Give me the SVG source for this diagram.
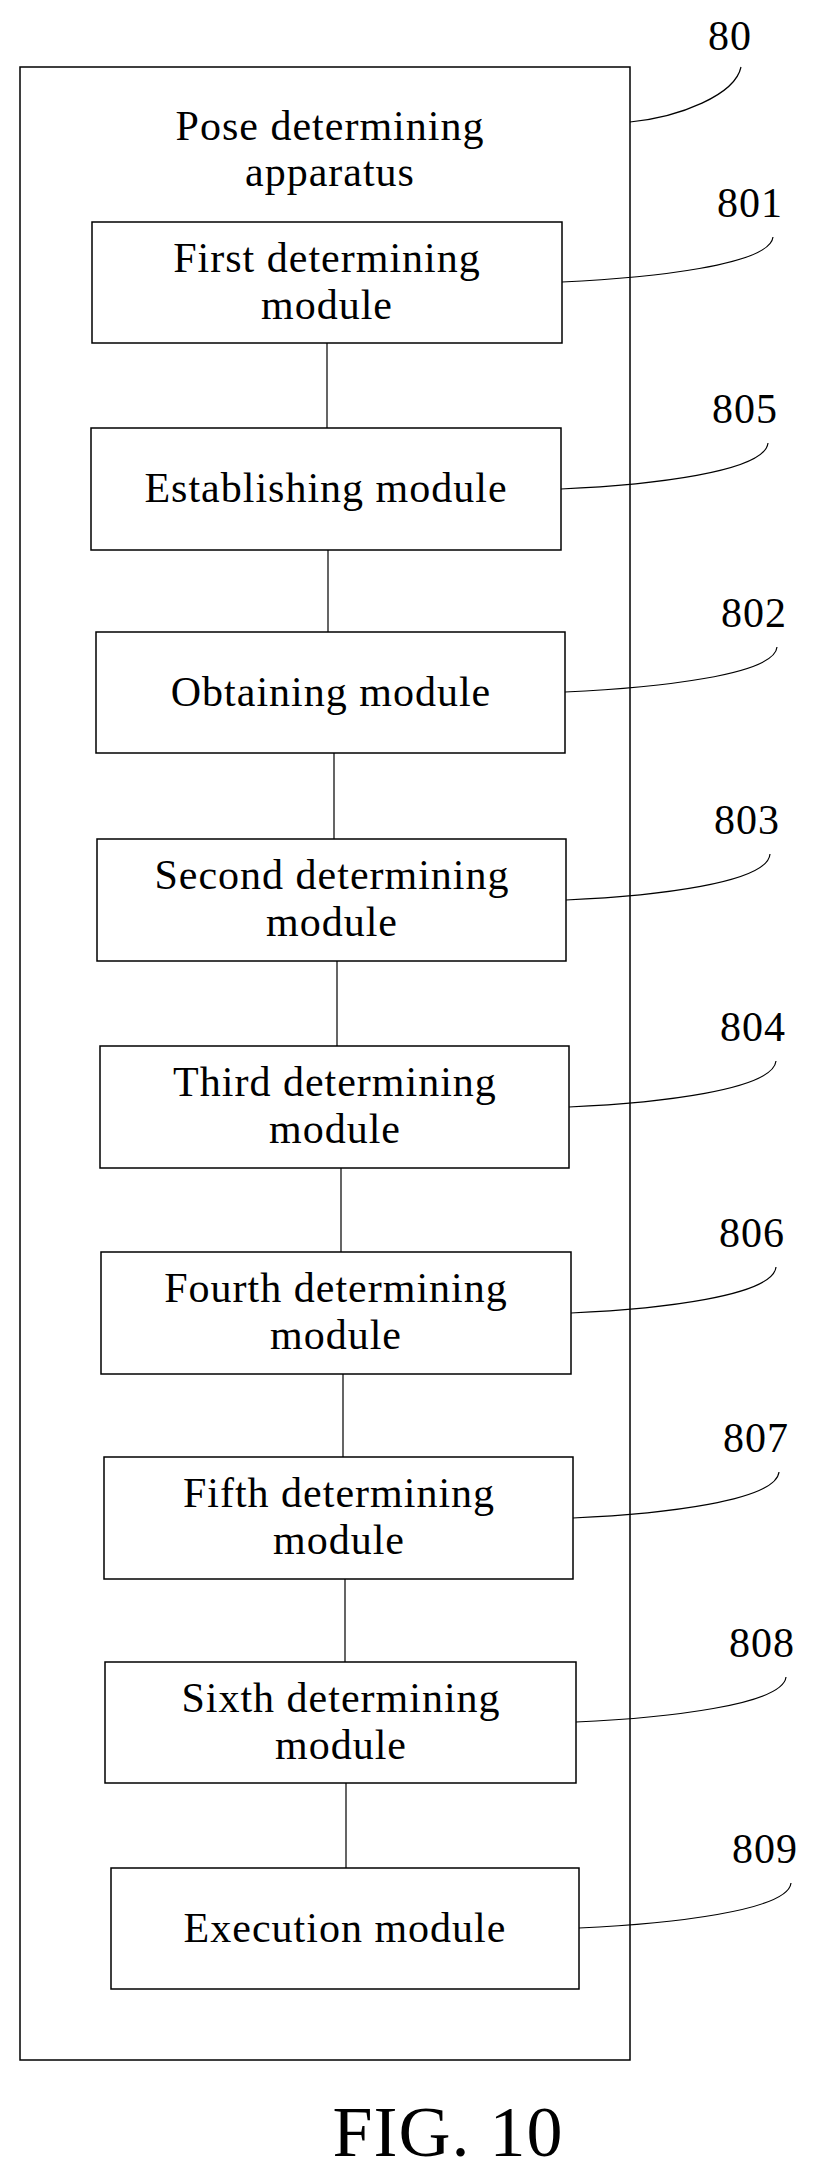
<svg xmlns="http://www.w3.org/2000/svg" width="817" height="2172" viewBox="0 0 817 2172">
<style>
.b{fill:#fff;stroke:#000;stroke-width:1.5}
.t{font-family:"Liberation Serif","Times New Roman",serif;font-size:42px;letter-spacing:1px;fill:#000;text-anchor:middle}
.l{fill:none;stroke:#000;stroke-width:1.2}
</style>
<rect width="817" height="2172" fill="#fff"/>
<g id="n80">
<rect class="b" x="20" y="67" width="610" height="1993"/>
<text class="t" x="330" y="140">Pose determining</text>
<text class="t" x="330" y="186">apparatus</text>
<text class="t" x="730" y="50">80</text>
</g>
<g id="connectors">
<path class="l" d="M327,343V428M328,550V632M334,753V839M337,961V1046M341,1168V1252M343,1374V1457M345,1579V1662M346,1783V1868"/>
<path class="l" d="M630,122C680,117 735,95 741,67"/>
<path class="l" d="M562,282C650,278 770,265 773,237"/>
<path class="l" d="M561,489C650,485 765,472 768,443"/>
<path class="l" d="M565,692C655,688 775,675 777,647"/>
<path class="l" d="M566,900C655,896 768,883 770,854"/>
<path class="l" d="M569,1107C658,1103 773,1090 776,1061"/>
<path class="l" d="M571,1313C660,1309 773,1296 776,1267"/>
<path class="l" d="M573,1518C662,1514 776,1501 779,1472"/>
<path class="l" d="M576,1722C665,1718 783,1705 786,1677"/>
<path class="l" d="M579,1928C668,1924 788,1911 791,1883"/>
</g>
<g id="n801"><rect class="b" x="92" y="222" width="470" height="121"/><text class="t" x="327" y="272">First determining</text><text class="t" x="327" y="319">module</text><text class="t" x="750" y="217">801</text></g>
<g id="n805"><rect class="b" x="91" y="428" width="470" height="122"/><text class="t" x="326" y="502">Establishing module</text><text class="t" x="745" y="423">805</text></g>
<g id="n802"><rect class="b" x="96" y="632" width="469" height="121"/><text class="t" x="331" y="706">Obtaining module</text><text class="t" x="754" y="627">802</text></g>
<g id="n803"><rect class="b" x="97" y="839" width="469" height="122"/><text class="t" x="332" y="889">Second determining</text><text class="t" x="332" y="936">module</text><text class="t" x="747" y="834">803</text></g>
<g id="n804"><rect class="b" x="100" y="1046" width="469" height="122"/><text class="t" x="335" y="1096">Third determining</text><text class="t" x="335" y="1143">module</text><text class="t" x="753" y="1041">804</text></g>
<g id="n806"><rect class="b" x="101" y="1252" width="470" height="122"/><text class="t" x="336" y="1302">Fourth determining</text><text class="t" x="336" y="1349">module</text><text class="t" x="752" y="1247">806</text></g>
<g id="n807"><rect class="b" x="104" y="1457" width="469" height="122"/><text class="t" x="339" y="1507">Fifth determining</text><text class="t" x="339" y="1554">module</text><text class="t" x="756" y="1452">807</text></g>
<g id="n808"><rect class="b" x="105" y="1662" width="471" height="121"/><text class="t" x="341" y="1712">Sixth determining</text><text class="t" x="341" y="1759">module</text><text class="t" x="762" y="1657">808</text></g>
<g id="n809"><rect class="b" x="111" y="1868" width="468" height="121"/><text class="t" x="345" y="1942">Execution module</text><text class="t" x="765" y="1863">809</text></g>
<text class="t" x="448" y="2156" style="font-size:72px">FIG. 10</text>
</svg>
